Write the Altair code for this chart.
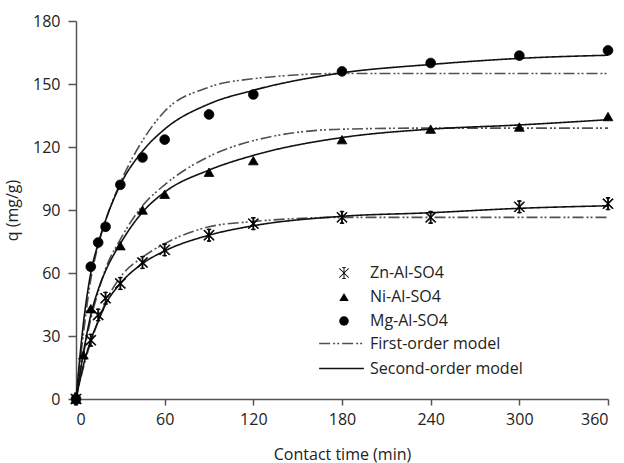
import altair as alt
import pandas as pd

# ---------------- data ----------------
series_names = ["Zn-Al-SO4", "Ni-Al-SO4", "Mg-Al-SO4"]
model_names = ["First-order model", "Second-order model"]

# observed points
zn_t = [0, 10, 15, 20, 30, 45, 60, 90, 120, 180, 240, 300, 360]
zn_q = [0, 28, 40, 48, 55, 65, 71, 78, 83.5, 86.5, 86.5, 91.5, 93]

ni_t = [0, 5, 10, 30, 45, 60, 90, 120, 180, 240, 300, 360]
ni_q = [0, 21, 43, 73, 90, 97.5, 108, 113.5, 123.5, 128.5, 129.5, 134.5]

mg_t = [0, 10, 15, 20, 30, 45, 60, 90, 120, 180, 240, 300, 360]
mg_q = [0, 63, 74.5, 82, 102, 115, 123.5, 135.5, 145, 156, 160, 163.5, 166]

# model curves
model_t = [0, 5, 10, 15, 20, 30, 45, 60, 90, 120, 180, 240, 300, 360]
zn_first = [0, 15, 27, 37, 46, 58, 67.5, 74, 82, 84.5, 86.5, 86.5, 86.5, 86.5]
zn_second = [0, 16, 28, 37, 45, 55, 64.5, 70.5, 78, 82.5, 87, 88.7, 90.8, 92]
ni_first = [0, 21, 38, 51, 62, 76, 92, 102, 115.5, 123, 128.5, 129, 129, 129]
ni_second = [0, 22, 40, 52, 61, 74, 89, 98.5, 109, 116, 124.5, 128.5, 130.5, 133]
mg_first = [0, 31, 57, 73, 85, 103, 123, 137, 148.5, 152.5, 155, 155, 155, 155]
mg_second = [0, 36, 60, 74, 85, 102, 118, 128.5, 140.5, 147, 155.3, 159.3, 162.2, 163.7]

x_ticks = [0, 60, 120, 180, 240, 300, 360]
y_ticks = [0, 30, 60, 90, 120, 150, 180]

# ---------------- tables ----------------
obs_rows = []
for name, ts, qs in zip(series_names, [zn_t, ni_t, mg_t], [zn_q, ni_q, mg_q]):
    for t, q in zip(ts, qs):
        obs_rows.append({"t": t, "q": q, "series": name})
obs = pd.DataFrame(obs_rows)

curves = [
    ("Zn-Al-SO4", "First-order model", zn_first),
    ("Zn-Al-SO4", "Second-order model", zn_second),
    ("Ni-Al-SO4", "First-order model", ni_first),
    ("Ni-Al-SO4", "Second-order model", ni_second),
    ("Mg-Al-SO4", "First-order model", mg_first),
    ("Mg-Al-SO4", "Second-order model", mg_second),
]
mod_rows = []
for s, m, vals in curves:
    for t, q in zip(model_t, vals):
        mod_rows.append({"t": t, "q": q, "series": s, "model": m})
mod = pd.DataFrame(mod_rows)

FONT = "Open Sans"
# asterisk-like marker built from filled thin bars
star = ("M-0.1,-1.25H0.1V1.25H-0.1Z"
        "M-0.93,-1.07L1.07,0.93L0.93,1.07L-1.07,-0.93Z"
        "M-0.93,1.07L-1.07,0.93L0.93,-1.07L1.07,-0.93Z"
        "M-0.4,-1.25H0.4V-1.13H-0.4Z"
        "M-0.4,1.13H0.4V1.25H-0.4Z")

x_enc = alt.X("t:Q", scale=alt.Scale(domain=[0, 360], nice=False),
              axis=alt.Axis(values=x_ticks, title="Contact time (min)"))
y_enc = alt.Y("q:Q", scale=alt.Scale(domain=[0, 180], nice=False),
              axis=alt.Axis(values=y_ticks, title="q (mg/g)"))


def model_layer(name, dash, colour, legend_y):
    return alt.Chart(mod).transform_filter(
        alt.datum.model == name
    ).mark_line(interpolate="monotone", strokeWidth=1.6, color=colour).encode(
        x=x_enc,
        y=y_enc,
        detail="series:N",
        strokeDash=alt.StrokeDash(
            "model:N",
            scale=alt.Scale(domain=[name], range=[dash]),
            legend=alt.Legend(
                title=None, orient="none", legendX=242, legendY=legend_y,
                symbolType="stroke", symbolSize=2000, symbolStrokeWidth=1.6,
                symbolStrokeColor=colour, labelFontSize=16, labelFont=FONT,
                labelColor="#222222", labelOffset=5, padding=0,
            ),
        ),
    )


first_lines = model_layer("First-order model", [11, 3, 2, 2, 2, 3], "#505050", 299)
second_lines = model_layer("Second-order model", [1, 0], "#111111", 324)

points = alt.Chart(obs).mark_point(filled=True, fill="black", stroke="black", strokeWidth=0.8,
                                   opacity=1, size=95).encode(
    x=x_enc,
    y=y_enc,
    shape=alt.Shape(
        "series:N",
        scale=alt.Scale(domain=series_names, range=[star, "triangle-up", "circle"]),
        legend=alt.Legend(
            title=None, orient="none", legendX=260, legendY=244,
            symbolFillColor="black", symbolStrokeColor="black", symbolStrokeWidth=0.8,
            symbolSize=90, labelFontSize=16, labelFont=FONT, labelColor="#222222",
            labelOffset=18, rowPadding=8, padding=0,
        ),
    ),
)

chart = alt.layer(first_lines, second_lines, points).resolve_scale(
    strokeDash="independent"
).resolve_legend(
    shape="independent", strokeDash="independent"
).properties(
    width=532, height=378,
    autosize=alt.AutoSizeParams(type="none"),
    padding={"left": 76, "top": 21, "right": 16, "bottom": 64},
).configure_view(stroke=None).configure_axis(
    grid=False,
    domainColor="#555555", domainWidth=1.5,
    tickColor="#555555", tickWidth=1.5,
    labelFont=FONT, labelFontSize=16, labelColor="#222222",
    titleFont=FONT, titleFontSize=16, titleColor="#222222", titleFontWeight="normal",
).configure_axisX(
    tickSize=6, labelPadding=6, titlePadding=19,
).configure_axisY(
    tickSize=8, labelPadding=8, titlePadding=12,
)

chart.save("out.html", embed_options={"renderer": "svg", "actions": False})
